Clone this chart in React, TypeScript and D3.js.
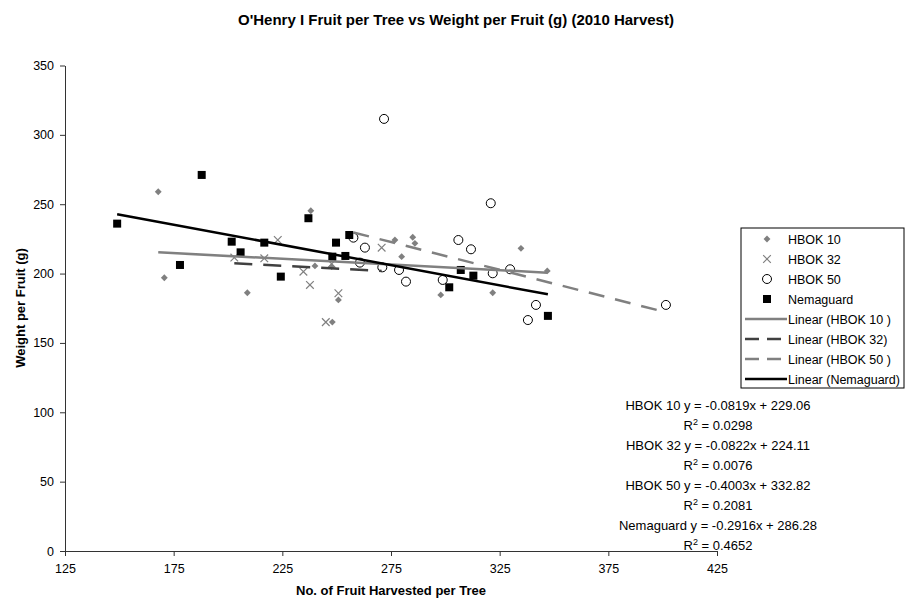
import { useEffect, useRef } from 'react';
import * as d3 from 'd3';

// [fruit per tree, weight per fruit (g)]
const hbok10 = [
    [167.9, 259.0], [170.7, 197.0], [208.9, 186.2], [238.1, 245.3], [240.0, 205.5],
    [247.7, 205.0], [250.8, 181.0], [248.0, 165.0], [276.8, 224.2], [285.0, 226.2],
    [286.0, 221.8], [279.9, 212.2], [297.9, 184.6], [321.8, 186.2], [334.8, 218.2],
    [346.9, 201.9],
];
const hbok32 = [
    [202.9, 211.5], [216.7, 211.0], [222.9, 224.2], [234.7, 201.4], [237.7, 191.8],
    [250.8, 185.8], [245.0, 165.0], [247.7, 207.0], [270.7, 218.7],
];
const hbok50 = [
    [257.7, 225.9], [263.0, 218.7], [260.7, 207.9], [271.0, 204.5], [278.7, 202.6],
    [281.9, 194.2], [271.8, 311.5], [306.0, 224.2], [311.8, 217.5], [320.9, 250.7],
    [321.8, 200.2], [329.8, 203.1], [298.8, 195.4], [341.7, 177.4], [338.0, 166.5],
    [401.5, 177.4],
];
const nemaguard = [
    [149.0, 236.0], [187.9, 271.1], [177.9, 206.2], [201.7, 223.0], [205.8, 215.3],
    [216.7, 222.3], [224.3, 197.8], [237.0, 239.9], [249.7, 222.3], [255.8, 227.8],
    [248.0, 212.2], [254.0, 212.7], [307.1, 202.6], [312.9, 198.5], [301.8, 190.1],
    [347.2, 169.5],
];

const seriesNames = ['HBOK 10', 'HBOK 32', 'HBOK 50', 'Nemaguard'];
// trendline coefficients [slope, intercept, r2]
const slopes = [-0.0819, -0.0822, -0.4003, -0.2916];
const intercepts = [229.06, 224.11, 332.82, 286.28];
const r2s = ['0.0298', '0.0076', '0.2081', '0.4652'];
const xTicks = [125, 175, 225, 275, 325, 375, 425];
const yTicks = [0, 50, 100, 150, 200, 250, 300, 350];

const font = 'Arial, "Liberation Sans", sans-serif';

const App = () => {
    const svgRef = useRef<SVGSVGElement>(null);

    useEffect(() => {
        const svg = d3.select(svgRef.current);
        svg.selectAll('*').remove();
        const width = 912;
        const height = 606;

        svg.append('rect').attr('width', width).attr('height', height).attr('fill', '#fff');

        const x = d3.scaleLinear().domain([125, 425]).range([65, 717]);
        const y = d3.scaleLinear().domain([0, 350]).range([551, 65.5]);

        svg.append('text')
            .attr('x', 456).attr('y', 25)
            .attr('text-anchor', 'middle')
            .style('font-family', font).style('font-size', '15px').style('font-weight', 'bold')
            .text("O'Henry I Fruit per Tree vs Weight per Fruit (g) (2010 Harvest)");

        const xAxis = svg.append('g')
            .attr('transform', `translate(0,${y(0)})`)
            .call(d3.axisBottom(x).tickValues(xTicks).tickSize(5).tickSizeOuter(0).tickPadding(8));
        const yAxis = svg.append('g')
            .attr('transform', `translate(${x(125)},0)`)
            .call(d3.axisLeft(y).tickValues(yTicks).tickSize(5).tickSizeOuter(0).tickPadding(6));
        [xAxis, yAxis].forEach(g => {
            g.select('.domain').attr('stroke', '#333');
            g.selectAll('line').attr('stroke', '#333');
            g.selectAll('text').style('font-family', font).style('font-size', '12.5px').attr('fill', '#000');
        });

        svg.append('text')
            .attr('x', 391).attr('y', 595)
            .attr('text-anchor', 'middle')
            .style('font-family', font).style('font-size', '13px').style('font-weight', 'bold')
            .text('No. of Fruit Harvested per Tree');
        svg.append('text')
            .attr('transform', 'translate(25,308) rotate(-90)')
            .attr('text-anchor', 'middle')
            .style('font-family', font).style('font-size', '13px').style('font-weight', 'bold')
            .text('Weight per Fruit (g)');

        const diamond = d3.symbol().type(d3.symbolDiamond2).size(30);
        const cross = d3.symbol().type(d3.symbolX).size(40);

        svg.append('g').selectAll('path').data(hbok10).join('path')
            .attr('transform', d => `translate(${x(d[0])},${y(d[1])})`)
            .attr('d', diamond).attr('fill', '#808080');
        svg.append('g').selectAll('path').data(hbok32).join('path')
            .attr('transform', d => `translate(${x(d[0])},${y(d[1])})`)
            .attr('d', cross).attr('fill', 'none').attr('stroke', '#808080').attr('stroke-width', 1.2);
        svg.append('g').selectAll('circle').data(hbok50).join('circle')
            .attr('cx', d => x(d[0])).attr('cy', d => y(d[1])).attr('r', 4.5)
            .attr('fill', '#fff').attr('stroke', '#000').attr('stroke-width', 1);
        svg.append('g').selectAll('rect').data(nemaguard).join('rect')
            .attr('x', d => x(d[0]) - 4).attr('y', d => y(d[1]) - 4)
            .attr('width', 8).attr('height', 8).attr('fill', '#000');

        const lineStyles = [
            { color: '#808080', dash: null, w: 2.5 },
            { color: '#404040', dash: '18,11', w: 2.5 },
            { color: '#808080', dash: '16,11', w: 2.5 },
            { color: '#000', dash: null, w: 2.5 },
        ];
        const allSeries = [hbok10, hbok32, hbok50, nemaguard];
        allSeries.forEach((s, i) => {
            const [x0, x1] = d3.extent(s, d => d[0]) as [number, number];
            const pts = [x0, x1].map(v => [x(v), y(slopes[i] * v + intercepts[i])] as [number, number]);
            svg.append('path')
                .attr('d', d3.line()(pts))
                .attr('stroke', lineStyles[i].color)
                .attr('stroke-width', lineStyles[i].w)
                .attr('stroke-dasharray', lineStyles[i].dash)
                .attr('fill', 'none');
        });

        // legend
        const lg = svg.append('g');
        lg.append('rect').attr('x', 741).attr('y', 228).attr('width', 163).attr('height', 160)
            .attr('fill', '#fff').attr('stroke', '#000');
        const markerDraw = [
            (g, cy) => g.append('path').attr('transform', `translate(767,${cy})`).attr('d', diamond).attr('fill', '#808080'),
            (g, cy) => g.append('path').attr('transform', `translate(767,${cy})`).attr('d', cross).attr('fill', 'none').attr('stroke', '#808080').attr('stroke-width', 1.2),
            (g, cy) => g.append('circle').attr('cx', 767).attr('cy', cy).attr('r', 4.5).attr('fill', '#fff').attr('stroke', '#000'),
            (g, cy) => g.append('rect').attr('x', 763).attr('y', cy - 4).attr('width', 8).attr('height', 8).attr('fill', '#000'),
        ];
        seriesNames.forEach((name, i) => {
            const cy = 239 + i * 20;
            markerDraw[i](lg, cy);
            lg.append('text').attr('x', 788).attr('y', cy + 4.5)
                .style('font-family', font).style('font-size', '12.5px').text(name);
        });
        const linearNames = ['Linear (HBOK 10 )', 'Linear (HBOK 32)', 'Linear (HBOK 50 )', 'Linear (Nemaguard)'];
        linearNames.forEach((name, i) => {
            const cy = 239 + (i + 4) * 20;
            lg.append('line').attr('x1', 745).attr('x2', 787).attr('y1', cy).attr('y2', cy)
                .attr('stroke', lineStyles[i].color).attr('stroke-width', lineStyles[i].w)
                .attr('stroke-dasharray', lineStyles[i].dash ? '14,8' : null);
            lg.append('text').attr('x', 788).attr('y', cy + 4.5)
                .style('font-family', font).style('font-size', '12.5px').text(name);
        });

        // trendline equations
        seriesNames.forEach((name, i) => {
            const cy = 405 + i * 40;
            svg.append('text').attr('x', 718).attr('y', cy + 4.5).attr('text-anchor', 'middle')
                .style('font-family', font).style('font-size', '13px')
                .text(`${name} y = ${slopes[i].toFixed(4)}x + ${intercepts[i].toFixed(2)}`);
            const t = svg.append('text').attr('x', 718).attr('y', cy + 24.5).attr('text-anchor', 'middle')
                .style('font-family', font).style('font-size', '13px');
            t.append('tspan').text('R');
            t.append('tspan').attr('dy', -5).style('font-size', '9px').text('2');
            t.append('tspan').attr('dy', 5).text(` = ${r2s[i]}`);
        });
    }, []);

    return (
        <div style={{ position: 'absolute', left: 0, top: 0 }}>
            <svg ref={svgRef} width="912" height="606"></svg>
        </div>
    );
};

export default App;
